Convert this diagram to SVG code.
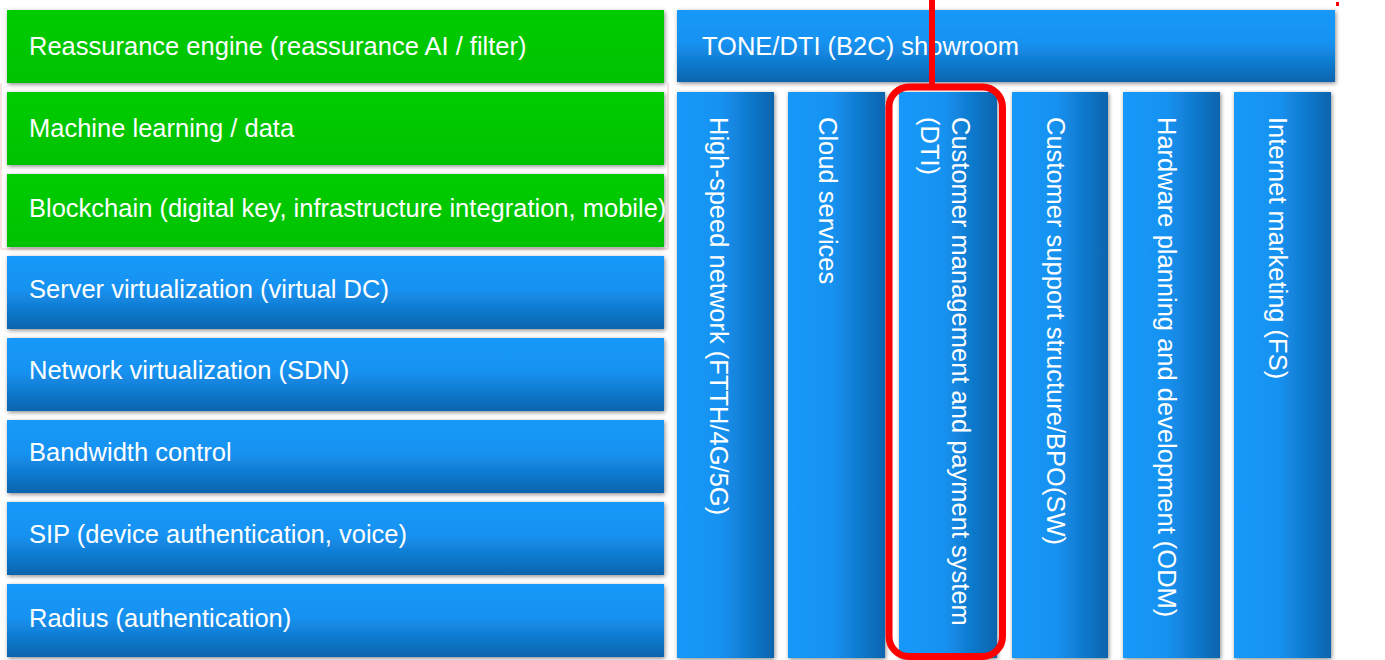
<svg xmlns="http://www.w3.org/2000/svg" width="1385" height="660" viewBox="0 0 1385 660">
  <defs>
    <!-- horizontal bars: bright top, darker bottom -->
    <linearGradient id="blueV" x1="0" y1="0" x2="0" y2="1">
      <stop offset="0" stop-color="#1699f9"/>
      <stop offset="0.45" stop-color="#1592f1"/>
      <stop offset="1" stop-color="#0b64ae"/>
    </linearGradient>
    <!-- vertical columns: bright left, darker right -->
    <linearGradient id="blueH" x1="0" y1="0" x2="1" y2="0">
      <stop offset="0" stop-color="#1699f9"/>
      <stop offset="0.45" stop-color="#1592f1"/>
      <stop offset="1" stop-color="#0b64ae"/>
    </linearGradient>
    <linearGradient id="green" x1="0" y1="0" x2="0" y2="1">
      <stop offset="0" stop-color="#00cc00"/>
      <stop offset="1" stop-color="#00c200"/>
    </linearGradient>
    <filter id="shadow" x="-5%" y="-10%" width="110%" height="125%">
      <feDropShadow dx="1" dy="1.5" stdDeviation="2" flood-color="#000" flood-opacity="0.45"/>
    </filter>
  </defs>
  <style>
    .lbl { font-family: "Liberation Sans", Arial, sans-serif; font-size: 25.5px; fill: #ffffff; }
    .bar { filter: url(#shadow); }
    .g { fill: url(#green); }
    .bv { fill: url(#blueV); }
    .bh { fill: url(#blueH); }
    .red { fill: none; stroke: #ff0000; stroke-width: 7; }
  </style>

  <rect width="1385" height="660" fill="#ffffff"/>

  <!-- faint guide outline -->
  <polyline points="668,83 668,249 1,249 1,83" fill="none" stroke="#f2c4c4" stroke-width="1"/>

  <!-- left stack -->
  <g id="reassurance-engine">
    <rect class="bar g" x="7" y="10" width="657" height="73"/>
    <text class="lbl" x="29" y="55">Reassurance engine (reassurance AI / filter)</text>
  </g>
  <g id="machine-learning">
    <rect class="bar g" x="7" y="92" width="657" height="73"/>
    <text class="lbl" x="29" y="137">Machine learning / data</text>
  </g>
  <g id="blockchain">
    <rect class="bar g" x="7" y="174" width="657" height="73"/>
    <text class="lbl" x="29" y="217">Blockchain (digital key, infrastructure integration, mobile)</text>
  </g>
  <g id="server-virtualization">
    <rect class="bar bv" x="7" y="256" width="657" height="73"/>
    <text class="lbl" x="29" y="298">Server virtualization (virtual DC)</text>
  </g>
  <g id="network-virtualization">
    <rect class="bar bv" x="7" y="338" width="657" height="73"/>
    <text class="lbl" x="29" y="379">Network virtualization (SDN)</text>
  </g>
  <g id="bandwidth-control">
    <rect class="bar bv" x="7" y="420" width="657" height="73"/>
    <text class="lbl" x="29" y="461">Bandwidth control</text>
  </g>
  <g id="sip">
    <rect class="bar bv" x="7" y="502" width="657" height="73"/>
    <text class="lbl" x="29" y="543">SIP (device authentication, voice)</text>
  </g>
  <g id="radius">
    <rect class="bar bv" x="7" y="584" width="657" height="73"/>
    <text class="lbl" x="29" y="627">Radius (authentication)</text>
  </g>

  <!-- right block -->
  <g id="showroom">
    <rect class="bar bv" x="677" y="10" width="658" height="72"/>
    <text class="lbl" x="702" y="55">TONE/DTI (B2C) showroom</text>
  </g>
  <g id="high-speed-network">
    <rect class="bar bh" x="677" y="92" width="97" height="566"/>
    <text class="lbl" transform="translate(710,117) rotate(90)">High-speed network (FTTH/4G/5G)</text>
  </g>
  <g id="cloud-services">
    <rect class="bar bh" x="788" y="92" width="97" height="566"/>
    <text class="lbl" transform="translate(819,117) rotate(90)">Cloud services</text>
  </g>
  <g id="customer-management">
    <rect class="bar bh" x="899" y="92" width="98" height="566"/>
    <text class="lbl" transform="translate(952,117) rotate(90)">Customer management and payment system</text>
    <text class="lbl" transform="translate(921,117) rotate(90)">(DTI)</text>
  </g>
  <g id="customer-support">
    <rect class="bar bh" x="1012" y="92" width="96" height="566"/>
    <text class="lbl" transform="translate(1047,117) rotate(90)">Customer support structure/BPO(SW)</text>
  </g>
  <g id="hardware-planning">
    <rect class="bar bh" x="1123" y="92" width="97" height="566"/>
    <text class="lbl" transform="translate(1158,117) rotate(90)">Hardware planning and development (ODM)</text>
  </g>
  <g id="internet-marketing">
    <rect class="bar bh" x="1234" y="92" width="97" height="566"/>
    <text class="lbl" transform="translate(1269,117) rotate(90)">Internet marketing (FS)</text>
  </g>

  <!-- red callout line -->
  <g id="connectors">
    <line x1="932" y1="0" x2="932" y2="84" stroke="#ff0000" stroke-width="6"/>
    <rect x="1336" y="2" width="3" height="4" fill="#ff0000"/>
  </g>

  <!-- highlight frame -->
  <g id="highlight">
    <rect class="red" x="889" y="87" width="113.5" height="569.5" rx="20" ry="20"/>
  </g>
</svg>
